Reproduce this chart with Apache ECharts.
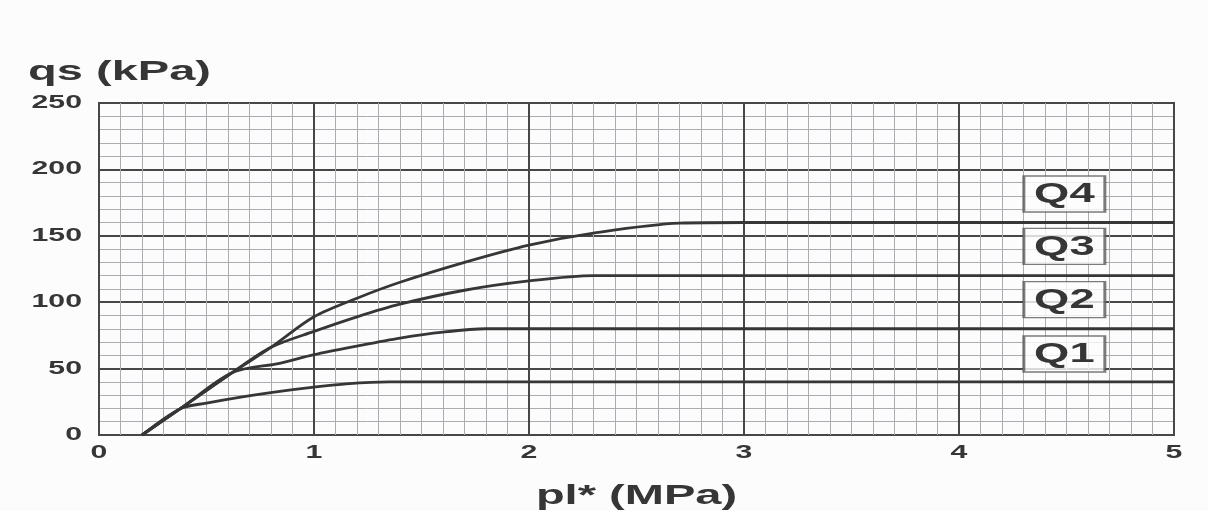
<!DOCTYPE html>
<html>
<head>
<meta charset="utf-8">
<script src="https://cdn.jsdelivr.net/npm/echarts@6/dist/echarts.min.js"></script>
<style>
  html, body { margin: 0; padding: 0; background: #fcfcfd; }
  #chart { width: 1208px; height: 511px; }
</style>
</head>
<body>
<div id="chart"></div>
<script>
// Unit skin friction qs versus net limit pressure pl*, curves Q1..Q4
const seriesNames = ['Q1', 'Q2', 'Q3', 'Q4'];

const q1 = [[0.2, 0], [0.38, 20], [0.5, 24], [0.66, 28.5], [0.85, 33], [1.0, 36], [1.15, 38.5], [1.35, 40], [2.0, 40], [5.0, 40]];
const q2 = [[0.2, 0], [0.38, 20], [0.62, 47], [0.84, 54], [1.0, 60.5], [1.2, 67], [1.4, 73], [1.6, 77.5], [1.8, 80], [2.5, 80], [5.0, 80]];
const q3 = [[0.2, 0], [0.38, 20], [0.62, 47], [0.8, 66], [1.0, 78], [1.2, 89], [1.4, 98.5], [1.7, 109], [2.0, 116], [2.3, 120], [3.0, 120], [5.0, 120]];
const q4 = [[0.2, 0], [0.38, 20], [0.62, 47], [0.8, 66], [1.0, 89], [1.2, 103], [1.4, 115], [1.7, 130], [2.0, 143], [2.3, 152], [2.7, 159.5], [3.0, 160], [4.0, 160], [5.0, 160]];
const curves = [q1, q2, q3, q4];

// Tag boxes at the right end of each curve (data coordinates)
const tagX = [4.49, 4.49, 4.49, 4.49];
const tagY = [61, 102, 142, 181.5];

const xTicks = [0, 1, 2, 3, 4, 5];
const yTicks = [0, 50, 100, 150, 200, 250];

const ink = '#363636';
const face = '"Liberation Sans", Arial, sans-serif';
// The lettering is set in a wide, heavy face: bold sans stretched horizontally
const stretch = 1.68;

const chart = echarts.init(document.getElementById('chart'));

const lineSeries = curves.map((d, i) => ({
  name: seriesNames[i],
  type: 'line',
  data: d,
  smooth: 0.3,
  symbol: 'none',
  lineStyle: { color: ink, width: 2.8 },
  z: 3
}));

const tagSeries = {
  type: 'scatter',
  data: seriesNames.map((n, i) => ({ name: n, value: [tagX[i], tagY[i]] })),
  symbol: 'rect',
  symbolSize: [81, 36],
  itemStyle: { color: '#fdfdfd', borderColor: '#5a5a5a', borderWidth: 2 },
  label: { show: false },
  emphasis: { disabled: true },
  z: 5
};

chart.setOption({
  animation: false,
  backgroundColor: '#fcfcfd',
  grid: {
    left: 99, right: 34, top: 103, bottom: 76,
    show: true, borderColor: '#444', borderWidth: 2, backgroundColor: 'transparent'
  },
  xAxis: {
    type: 'value',
    min: xTicks[0], max: xTicks[xTicks.length - 1], interval: 1,
    axisLine: { show: false },
    axisTick: { show: false },
    minorTick: { show: false, splitNumber: 10 },
    axisLabel: { show: false },
    splitLine: { show: true, lineStyle: { color: '#474747', width: 2 } },
    minorSplitLine: { show: true, lineStyle: { color: '#acacb2', width: 1 } }
  },
  yAxis: {
    type: 'value',
    min: yTicks[0], max: yTicks[yTicks.length - 1], interval: 50,
    axisLine: { show: false },
    axisTick: { show: false },
    minorTick: { show: false, splitNumber: 5 },
    axisLabel: { show: false },
    splitLine: { show: true, lineStyle: { color: '#474747', width: 2 } },
    minorSplitLine: { show: true, lineStyle: { color: '#acacb2', width: 1 } }
  },
  series: [...lineSeries, tagSeries]
});

// Stretched lettering placed through the chart's own coordinate system
function wideText(text, x, y, size, align, vAlign, z) {
  return {
    type: 'text', x: x, y: y, scaleX: stretch, z: z || 10,
    style: {
      text: text, font: 'bold ' + size + 'px ' + face, fill: ink,
      align: align, verticalAlign: vAlign
    }
  };
}

const graphics = [];
xTicks.forEach(v => {
  const p = chart.convertToPixel({ gridIndex: 0 }, [v, yTicks[0]]);
  graphics.push(wideText(String(v), p[0], p[1] + 18, 18, 'center', 'middle'));
});
yTicks.forEach(v => {
  const p = chart.convertToPixel({ gridIndex: 0 }, [xTicks[0], v]);
  graphics.push(wideText(String(v), p[0] - 17, p[1], 18, 'right', 'middle'));
});
seriesNames.forEach((n, i) => {
  const p = chart.convertToPixel({ gridIndex: 0 }, [tagX[i], tagY[i]]);
  graphics.push(wideText(n, p[0], p[1] + 1, 27, 'center', 'middle', 20));
});
const origin = chart.convertToPixel({ gridIndex: 0 }, [xTicks[0], yTicks[0]]);
const xEnd = chart.convertToPixel({ gridIndex: 0 }, [xTicks[xTicks.length - 1], yTicks[0]]);
graphics.push(wideText('qs (kPa)', origin[0] - 71, 72, 28, 'left', 'middle'));
graphics.push(wideText('pl* (MPa)', (origin[0] + xEnd[0]) / 2, 496, 28, 'center', 'middle'));

chart.setOption({ graphic: graphics });
</script>
</body>
</html>
